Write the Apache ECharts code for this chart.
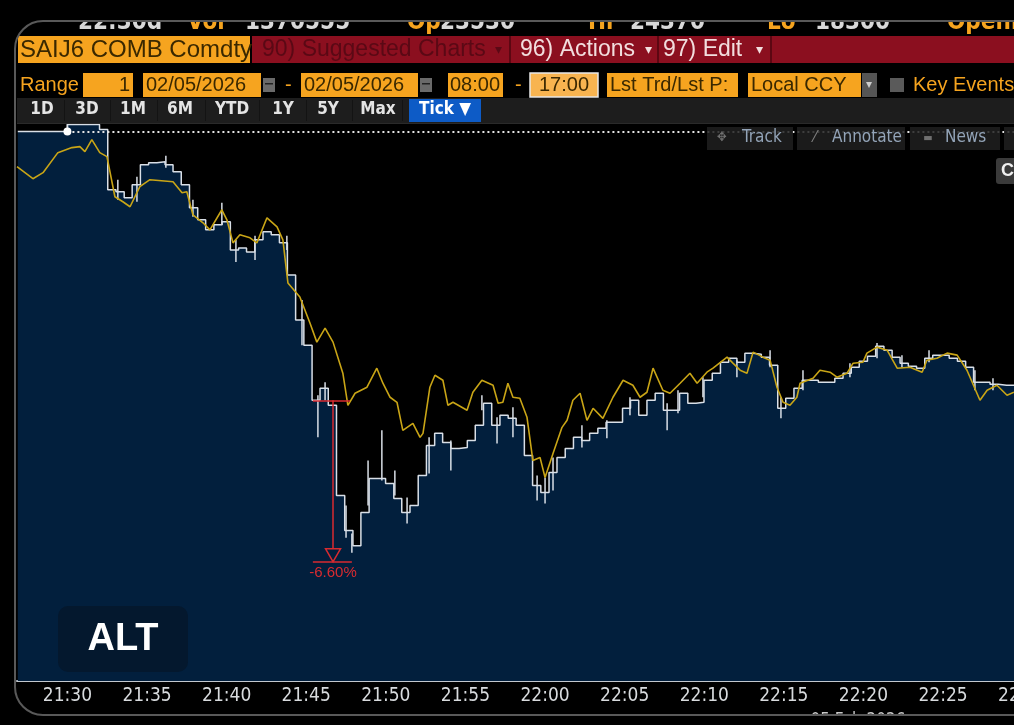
<!DOCTYPE html>
<html><head><meta charset="utf-8">
<script src="https://cdn.jsdelivr.net/npm/echarts@6/dist/echarts.min.js"></script>
<style>html,body{margin:0;padding:0;background:#000;}#c{width:1014px;height:725px;}</style>
</head><body><div id="c"></div>
<script>
// Times are seconds after 21:30:00 (05 Feb 2026); values are prices.
const tickTimes = [0,300,600,900,1200,1500,1800,2100,2400,2700,3000,3300,3600];
const tickLabels = ['21:30','21:35','21:40','21:45','21:50','21:55','22:00','22:05','22:10','22:15','22:20','22:25','22:30'];

// SAIJ6 tick series (step)
const whiteT = [-187,-156,-125,-94,-63,-33,0,29,60,91,121,152,183,214,244,275,306,337,368,398,429,460,491,521,552,583,614,645,675,706,737,768,799,829,860,891,922,952,983,1014,1045,1076,1106,1137,1168,1199,1230,1260,1291,1322,1353,1384,1414,1445,1476,1507,1537,1568,1599,1630,1661,1691,1722,1753,1784,1815,1845,1876,1907,1938,1968,1999,2030,2061,2092,2122,2153,2184,2215,2246,2276,2307,2338,2369,2399,2430,2461,2492,2523,2553,2584,2615,2646,2677,2707,2738,2769,2800,2830,2861,2892,2923,2954,2984,3015,3046,3077,3108,3138,3169,3200,3231,3261,3292,3323,3354,3385,3415,3446,3477,3508,3539,3569];
const whiteV = [24232,24232,24232,24232,24232,24232,24295,24295,24295,24295,
 24250,23710,23692,23638,23755,23935,23953,23962,23935,23872,
 23755,23548,23440,23350,23395,23422,23170,23188,23152,23260,
 23332,23305,23233,22945,22540,22315,21820,21928,21775,20965,
 20650,20515,20812,21118,21118,21073,20938,20812,20875,21145,
 21415,21523,21442,21388,21397,21460,21595,21793,21595,21685,
 21658,21595,21325,21055,20992,21172,21307,21388,21487,21460,
 21523,21568,21622,21622,21748,21820,21685,21820,21883,21730,
 21730,21883,21793,21802,22000,22063,22162,22198,22162,22243,
 22234,22207,22135,21748,21838,21928,22000,22000,21982,21982,
 22018,22063,22117,22171,22216,22306,22270,22207,22153,22126,
 22108,22198,22225,22225,22198,22171,22117,21982,21982,21964,
 21955,21955,21955];

// high/low tick whiskers
const whiskT = [0,190,262,371,473,582,635,707,827,884,944,971,1050,1072,1133,1185,1234,1280,1363,1445,1562,1619,1679,1770,1800,1830,1939,2033,2120,2260,2301,2395,2523,2648,2689,2772,2949,3051,3145,3247,3420,3488];
const whiskHi = [24300,23800,23827,24016,23620,23593,23260,23296,23296,22720,21865,21982,20875,20623,21280,21550,21190,20947,21487,21460,21865,21667,21757,21145,21127,21307,21595,21640,21847,21793,21910,22027,22180,22270,21847,22090,22153,22333,22225,22270,22090,22018];
const whiskLo = [24232,23620,23602,23908,23467,23395,23062,23080,23170,22315,21487,21820,20587,20452,20875,21100,20965,20713,21163,21190,21730,21433,21487,20920,20893,21010,21397,21478,21685,21550,21703,21847,22027,22117,21658,21910,22027,22198,22117,22162,21910,21910];

// comparison line (yellow)
const yellowT = [-190,-130,-92,-36,17,47,66,92,122,149,179,209,236,273,311,398,432,450,473,511,537,582,601,624,650,688,714,752,790,812,831,876,914,940,971,1001,1038,1057,1084,1129,1166,1189,1216,1242,1264,1302,1329,1340,1366,1385,1415,1434,1453,1506,1528,1562,1604,1623,1641,1660,1679,1705,1732,1754,1781,1800,1830,1864,1883,1905,1932,1958,1981,2018,2056,2094,2131,2158,2184,2207,2244,2271,2309,2346,2373,2410,2433,2486,2508,2535,2561,2584,2621,2648,2674,2697,2723,2749,2761,2810,2836,2874,2900,2938,2961,2998,3013,3051,3089,3127,3175,3221,3239,3277,3315,3353,3390,3439,3466,3503,3541,3567];
const yellowV = [23917,23809,23863,24043,24088,24097,24052,24160,24043,24007,23647,23602,23557,23737,23800,23782,23683,23692,23485,23413,23350,23530,23440,23233,23305,23278,23233,23458,23377,23260,22873,22747,22513,22342,22468,22342,22063,21775,21883,21937,22108,21973,21847,21802,21550,21613,21487,21523,21937,22045,22000,21775,21802,21730,21892,22000,21955,21793,21802,21973,21847,21838,21667,21280,21307,21127,21343,21577,21640,21820,21883,21640,21748,21658,21847,22000,21955,21847,21892,22108,21910,21883,21973,22063,21973,22072,22108,22207,22153,22090,22063,22252,22207,22180,21937,21802,21775,21847,21973,22018,22090,22072,22027,22063,22153,22162,22243,22297,22270,22108,22117,22072,22180,22198,22243,22225,22090,21820,21910,21955,21865,21892];

const refLevel = 24232;           // dotted reference level
const dropStart = [1001, 21820];  // -6.60% drop measurement
const dropEnd = [1001, 20371];
const dropLabel = '-6.60%';

const chart = echarts.init(document.getElementById('c'), null, {renderer:'canvas'});
const F = "'Liberation Sans Narrow','DejaVu Sans Condensed','Arial Narrow','Liberation Sans',sans-serif";
const FS = "'Liberation Sans',Arial,sans-serif";
const ORANGE = '#f6a41f', DARKTXT = '#3a2800', RED = '#8b0f1f';
const g = [];
function R(x,y,w,h,fill,o){o=o||{};g.push({type:'rect',silent:true,z:o.z||100,zlevel:o.zl||0,shape:{x:x,y:y,width:w,height:h,r:o.r||0},style:{fill:fill,stroke:o.stroke||null,lineWidth:o.lw||0}});}
function T(x,y,text,fill,size,o){o=o||{};g.push({type:'text',silent:true,z:o.z||101,x:x,y:y,style:{text:text,fill:fill,fontSize:size,fontFamily:o.family||F,fontWeight:o.weight||'normal',align:o.align||'left',verticalAlign:o.va||'middle'}});}

// top (clipped) quote line
const q=[[52,'ᐩ',ORANGE],[78,'22:30d','#d8d8d8'],[187,'Vol',ORANGE],[245,'1370555','#d8d8d8'],[407,'Op',ORANGE],[440,'23530','#d8d8d8'],[588,'Hi',ORANGE],[630,'24370','#d8d8d8'],[767,'Lo',ORANGE],[815,'18300','#d8d8d8'],[947,'OpenInt',ORANGE]];
q.forEach(function(a){T(a[0],35,a[1],a[2],24,{va:'bottom',z:90,weight:'bold'});});

// row 2
R(18,36,232,27,ORANGE);
T(20,50,'SAIJ6 COMB Comdty',DARKTXT,24,{family:FS});
R(252,36,762,27,RED);
R(509,36,2,27,'#5c0712',{z:101});R(657,36,2,27,'#5c0712',{z:101});R(770,36,2,27,'#5c0712',{z:101});
T(262,50,'90) Suggested Charts','#5a0915',23,{family:FS});
T(495,50,'▾','#5a0915',14,{family:FS});
T(520,50,'96) Actions','#f2dede',23,{family:FS});
T(645,50,'▾','#f2dede',14,{family:FS});
T(663,50,'97) Edit','#f2dede',23,{family:FS});
T(756,50,'▾','#f2dede',14,{family:FS});

// row 3
T(20,85,'Range',ORANGE,20,{family:FS});
R(83,73,50,24,ORANGE); T(130,85,'1',DARKTXT,20,{align:'right',family:FS});
R(143,73,118,24,ORANGE); T(146,85,'02/05/2026',DARKTXT,20,{family:FS});
R(263,78,12,14,'#6a6a6a'); R(265,83,8,1.5,'#222',{z:101});
T(285,85,'-',ORANGE,20,{family:FS});
R(301,73,117,24,ORANGE); T(304,85,'02/05/2026',DARKTXT,20,{family:FS});
R(420,78,12,14,'#6a6a6a'); R(422,83,8,1.5,'#222',{z:101});
R(448,73,55,24,ORANGE); T(475,85,'08:00',DARKTXT,20,{align:'center',family:FS});
T(515,85,'-',ORANGE,20,{family:FS});
R(530,73,68,24,'#f8b450',{stroke:'#e8e8e8',lw:1.5}); T(564,85,'17:00',DARKTXT,20,{align:'center',family:FS});
R(607,73,131,24,ORANGE); T(610,85,'Lst Trd/Lst P:',DARKTXT,20,{family:FS});
R(748,73,113,24,ORANGE); T(751,85,'Local CCY',DARKTXT,20,{family:FS});
R(862,73,15,24,'#555'); T(869,85,'▾','#ccc',12,{align:'center',family:FS});
R(890,78,14,14,'#5a5a5a');
T(913,85,'Key Events',ORANGE,20,{family:FS});

// row 4
R(17,98,997,25,'#1d1d1d');
[[42,'1D'],[87,'3D'],[133,'1M'],[180,'6M'],[232,'YTD'],[283,'1Y'],[328,'5Y'],[378,'Max']].forEach(function(a){T(a[0],110,a[1],'#e4e4e4',17,{align:'center',weight:'bold'});});
[64,110,157,205,259,306,352,402].forEach(function(x){R(x,100,1,21,'#131313',{z:101});});
R(409,99,72,23,'#0d5bc6'); T(445,110,'Tick ▼','#ffffff',17,{align:'center',weight:'bold'});
R(17,123,997,1,'#2a2a2a');

// chart toolbar
R(707,127,86,23,'rgba(32,32,32,0.85)',{z:100}); T(722,138,'✥','#707070',13,{align:'center'}); T(742,138,'Track','#93a4b8',17);
R(797,127,108,23,'rgba(32,32,32,0.85)',{z:100}); T(815,138,'⁄','#808080',16,{align:'center'}); T(832,138,'Annotate','#93a4b8',17);
R(910,127,90,23,'rgba(32,32,32,0.85)',{z:100}); T(928,138,'▬','#707070',11,{align:'center'}); T(945,138,'News','#93a4b8',17);
R(1004,127,30,23,'rgba(32,32,32,0.85)',{z:100});
R(996,158,30,26,'#3a3a3a',{r:3}); T(1001,171,'C','#f0f0f0',18,{weight:'bold',family:FS});

// ALT badge
R(58,606,130,66,'#04182e',{r:10,z:100});
T(123,640,'ALT','#ffffff',38,{align:'center',weight:'bold',family:FS});

// date under axis (mostly hidden by frame)
T(858,712,'05 Feb 2026','#c8c8c8',17,{align:'center',va:'top',z:90});

// frame masks + border (own layer, above everything)
R(0,0,1014,21,'#000',{z:200,zl:1});
R(0,715,1014,10,'#000',{z:200,zl:1});
R(0,0,15,725,'#000',{z:200,zl:1});
g.push({type:'polygon',silent:true,z:200,zlevel:1,shape:{points:[[15,21],[43,21],[35.75,21.95],[29,24.75],[23.2,29.2],[18.75,35],[15.95,41.75],[15,49]]},style:{fill:'#000'}});
g.push({type:'polygon',silent:true,z:200,zlevel:1,shape:{points:[[15,715],[15,687],[15.95,694.25],[18.75,701],[23.2,706.8],[29,711.25],[35.75,714.05],[43,715]]},style:{fill:'#000'}});
g.push({type:'rect',silent:true,z:201,zlevel:1,shape:{x:15,y:21,width:1100,height:694,r:28},style:{fill:null,stroke:'#595959',lineWidth:2}});

const white = whiteT.map(function(t,i){return [t,whiteV[i]];});
const yellow = yellowT.map(function(t,i){return [t,yellowV[i]];});
const whisk = whiskT.map(function(t,i){return [t,whiskHi[i],whiskLo[i]];});
const RC = '#d82b30';

chart.setOption({
  backgroundColor:'#000',
  animation:false,
  grid:{left:17,top:124,bottom:44,width:1037,outerBoundsMode:'none',containLabel:false},
  xAxis:{type:'value',min:-190,max:3718,
    axisLine:{lineStyle:{color:'#c3c8ce',width:2}},
    axisTick:{inside:true,length:4,customValues:tickTimes,lineStyle:{color:'#c3c8ce',width:1.5}},
    axisLabel:{customValues:tickTimes,margin:6,color:'#d8dbde',fontSize:19,fontFamily:F,hideOverlap:false,
      formatter:function(v){var k=tickTimes.indexOf(v);return k>=0?tickLabels[k]:'';}},
    splitLine:{show:false}},
  yAxis:{type:'value',min:19300,max:24300,show:false,splitLine:{show:false}},
  series:[
    {type:'line',name:'SAIJ6',data:white,step:'end',showSymbol:false,z:2,
     lineStyle:{color:'#d9dfe7',width:1.5},
     areaStyle:{color:'#021f3d',opacity:1,origin:'start'},
     markLine:{silent:true,symbol:['none','none'],label:{show:false},animation:false,
       data:[
         [{coord:[0,refLevel],lineStyle:{color:'#e6e6e6',width:2,type:[2,3]}},{coord:[3718,refLevel]}],
         [{coord:[925,dropStart[1]],lineStyle:{color:RC,width:1.5,type:'solid'}},{coord:[1065,dropStart[1]]}],
         [{coord:[925,dropEnd[1]],lineStyle:{color:RC,width:1.5,type:'solid'}},{coord:[1072,dropEnd[1]]}],
         [{coord:dropStart,lineStyle:{color:RC,width:1.5,type:'solid'}},{coord:[dropEnd[0],dropEnd[1]+120]}]
       ]},
     markPoint:{silent:true,animation:false,data:[
       {coord:[0,refLevel],symbol:'circle',symbolSize:8,itemStyle:{color:'#ffffff'},label:{show:false}},
       {coord:dropEnd,symbol:'path://M0,0L16,0L8,13Z',symbolSize:[15,13],symbolOffset:[0,'-50%'],
        itemStyle:{color:'rgba(0,0,0,0)',borderColor:RC,borderWidth:1.5},
        label:{show:true,position:'bottom',distance:3,formatter:dropLabel,color:RC,fontSize:15,fontFamily:FS}}
     ]}
    },
    {type:'custom',name:'ticks',data:whisk,z:3,clip:true,encode:{x:0,y:[1,2]},
     renderItem:function(params,api){
       var a=api.coord([api.value(0),api.value(1)]), b=api.coord([api.value(0),api.value(2)]);
       return {type:'line',shape:{x1:a[0],y1:a[1],x2:b[0],y2:b[1]},style:{stroke:'#d9dfe7',lineWidth:1.5}};
     }},
    {type:'line',name:'Comparison',data:yellow,showSymbol:false,z:4,
     lineStyle:{color:'#c9a516',width:1.6}}
  ],
  graphic:g
});
</script></body></html>
